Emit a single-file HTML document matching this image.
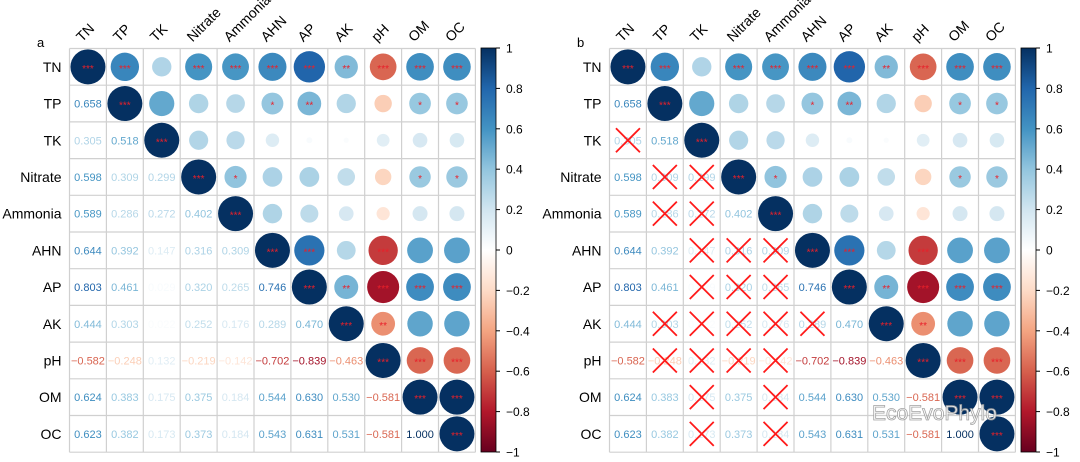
<!DOCTYPE html>
<html><head><meta charset="utf-8">
<style>
html,body{margin:0;padding:0;background:#fff;}
svg{display:block;font-family:"Liberation Sans",Arial,sans-serif;}
</style></head>
<body>
<svg id="chart" width="1080" height="462" viewBox="0 0 1080 462"></svg>
<script>
const vars = ["TN","TP","TK","Nitrate","Ammonia","AHN","AP","AK","pH","OM","OC"];
// lower-triangle correlation values, row i has i entries (cols 0..i-1)
const lowerValues = [
 [],
 [0.658],
 [0.305,0.518],
 [0.598,0.309,0.299],
 [0.589,0.286,0.272,0.402],
 [0.644,0.392,0.147,0.316,0.309],
 [0.803,0.461,0.029,0.320,0.265,0.746],
 [0.444,0.303,0.022,0.252,0.176,0.289,0.470],
 [-0.582,-0.248,0.132,-0.219,-0.142,-0.702,-0.839,-0.463],
 [0.624,0.383,0.175,0.375,0.184,0.544,0.630,0.530,-0.581],
 [0.623,0.382,0.173,0.373,0.184,0.543,0.631,0.531,-0.581,1.000]
];
// significance stars for upper triangle: sigStars[i][j] for j>i
const sigStars = [
 ["***","***","","***","***","***","***","**","***","***","***"],
 ["","***","","","","*","**","","","*","*"],
 ["","","***","","","","","","","",""],
 ["","","","***","*","","","","","*","*"],
 ["","","","","***","","","","","",""],
 ["","","","","","***","***","","***","",""],
 ["","","","","","","***","**","***","***","***"],
 ["","","","","","","","***","**","",""],
 ["","","","","","","","","***","***","***"],
 ["","","","","","","","","","***","***"],
 ["","","","","","","","","","","***"]
];
// non-significant cells crossed in panel b (row, col)
const crossedCells = [[2,0],[3,1],[3,2],[4,1],[4,2],[5,2],[5,3],[5,4],[6,2],[6,3],[6,4],
 [7,1],[7,2],[7,3],[7,4],[7,5],[8,1],[8,2],[8,3],[8,4],[9,2],[9,4],[10,2],[10,4]];
const tickLabels = ["1","0.8","0.6","0.4","0.2","0","\u22120.2","\u22120.4","\u22120.6","\u22120.8","\u22121"];
const tickValues = [1,0.8,0.6,0.4,0.2,0,-0.2,-0.4,-0.6,-0.8,-1];

const NS="http://www.w3.org/2000/svg";
const svg=document.getElementById('chart');
function mk(tag,attrs,parent){const e=document.createElementNS(NS,tag);for(const k in attrs)e.setAttribute(k,attrs[k]);(parent||svg).appendChild(e);return e;}
const pal=["#67001F","#B2182B","#D6604D","#F4A582","#FDDBC7","#FFFFFF","#D1E5F0","#92C5DE","#4393C3","#2166AC","#053061"];
function hex(h){return [1,3,5].map(i=>parseInt(h.substr(i,2),16));}
function color(v){const t=(Math.max(-1,Math.min(1,v))+1)/2*(pal.length-1);const i=Math.min(pal.length-2,Math.floor(t));const f=t-i;const a=hex(pal[i]),b=hex(pal[i+1]);return "rgb("+a.map((x,k)=>Math.round(x+(b[k]-x)*f)).join(",")+")";}
function r(i,j){if(i===j)return 1;return i>j?lowerValues[i][j]:lowerValues[j][i];}

const N=vars.length, CW=36.9, CH=36.7, GY=48.5;
function drawPanel(ox,label,crosses){
  const GX=69.5+ox;
  const g=mk('g',{});
  
  
  const cx=j=>GX+(j+0.5)*CW, cy=i=>GY+(i+0.5)*CH;
  // grid
  for(let k=0;k<=N;k++){
    mk('line',{x1:GX+k*CW,y1:GY,x2:GX+k*CW,y2:GY+N*CH,stroke:'#d0d0d0','stroke-width':1.2},g);
    mk('line',{x1:GX,y1:GY+k*CH,x2:GX+N*CW,y2:GY+k*CH,stroke:'#d0d0d0','stroke-width':1.2},g);
  }
  const t=mk('text',{x:ox+37,y:47,'font-size':13,fill:'#000'},g);t.textContent=label;
  
  for(let i=0;i<N;i++){
    const rl=mk('text',{x:GX-8,y:cy(i)+5,'font-size':14,'text-anchor':'end',fill:'#000'},g);rl.textContent=vars[i];
    
    const cl=mk('text',{x:cx(i)-6,y:GY-6,'font-size':14,fill:'#000',transform:'rotate(-45 '+(cx(i)-6)+' '+(GY-6)+')'},g);cl.textContent=vars[i];
    
  }
  for(let i=0;i<N;i++)for(let j=0;j<N;j++){
    const v=r(i,j);
    if(j>=i){
      const c=mk('circle',{cx:cx(j),cy:cy(i),r:17.5*Math.sqrt(Math.abs(v)),fill:color(v)},g);
      
      const s=sigStars[i][j];
      if(s){const st=mk('text',{x:cx(j),y:cy(i)+5,'font-size':10,'text-anchor':'middle',fill:'#e8202a'},g);st.textContent=s;
        }
    } else {
      const tx=mk('text',{x:cx(j),y:cy(i)+4,'font-size':11,'text-anchor':'middle',fill:color(v)},g);
      tx.textContent=(v<0?'\u2212':'')+Math.abs(v).toFixed(3);
      
    }
  }
  if(crosses){
    crossedCells.forEach(([i,j])=>{
      const x=cx(j),y=cy(i),d=12;
      const p=mk('path',{d:`M${x-d} ${y-d}L${x+d} ${y+d}M${x+d} ${y-d}L${x-d} ${y+d}`,stroke:'#ff1a1a','stroke-width':1.8,fill:'none'},g);
      
    });
  }
  // colorbar
  const BX=481+ox, BT=48, BB=452;
  const gid='grad'+label;
  const defs=mk('defs',{},g);const lg=mk('linearGradient',{id:gid,x1:0,y1:0,x2:0,y2:1},defs);
  pal.slice().reverse().forEach((c,k)=>mk('stop',{offset:(k/(pal.length-1)),'stop-color':c},lg));
  const bar=mk('rect',{x:BX,y:BT,width:15,height:BB-BT,fill:'url(#'+gid+')',stroke:'#000','stroke-width':0.8},g);
  
  const ys=v=>BT+(1-v)/2*(BB-BT);
  tickValues.forEach((v,k)=>{
    mk('line',{x1:BX+15,y1:ys(v),x2:BX+19,y2:ys(v),stroke:'#000','stroke-width':1},g);
    const tl=mk('text',{x:BX+25,y:ys(v)+4.5,'font-size':12,fill:'#000'},g);tl.textContent=tickLabels[k];
    
  });
}
drawPanel(0,'a',false);
drawPanel(540,'b',true);
const wm=mk('text',{x:872,y:420,'font-size':21,fill:'#fff',stroke:'#999','stroke-width':0.8,opacity:0.9});
wm.textContent='EcoEvoPhylo';


</script>
</body></html>
